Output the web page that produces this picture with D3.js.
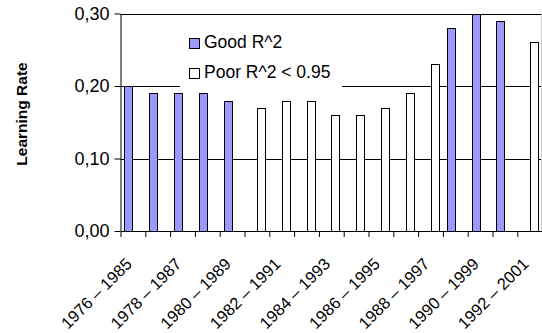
<!DOCTYPE html>
<html>
<head>
<meta charset="utf-8">
<script src="https://cdn.jsdelivr.net/npm/d3@7"></script>
<style>
  html, body { margin: 0; padding: 0; background: #ffffff; }
  svg { display: block; font-family: "Liberation Sans", Arial, sans-serif; }
</style>
</head>
<body>
<svg id="chart" width="542" height="333"></svg>
<script>
// ---- data ----
const categories = [
  "1976 – 1985", "1977 – 1986", "1978 – 1987", "1979 – 1988", "1980 – 1989",
  "1981 – 1990", "1982 – 1991", "1983 – 1992", "1984 – 1993", "1985 – 1994",
  "1986 – 1995", "1987 – 1996", "1988 – 1997", "1989 – 1998", "1990 – 1999",
  "1991 – 2000", "1992 – 2001"
];
const goodR2 = [0.20, 0.19, 0.19, 0.19, 0.18, null, null, null, null, null, null, null, null, 0.28, 0.30, 0.29, null];
const poorR2 = [null, null, null, null, null, 0.17, 0.18, 0.18, 0.16, 0.16, 0.17, 0.19, 0.23, null, null, null, 0.26];
const seriesNames = ["Good R^2", "Poor R^2 < 0.95"];
const yTickValues = [0, 0.1, 0.2, 0.3];
const yTitle = "Learning Rate";

// ---- layout ----
const svg = d3.select("#chart");
const W = 542, H = 333;
const plotLeft = 120.5, plotTop = 13.5, plotBottom = 231;
const step = 24.8;
const plotRight = plotLeft + categories.length * step;

svg.append("rect").attr("width", W).attr("height", H).attr("fill", "#fff");

const y = d3.scaleLinear().domain([0, 0.3]).range([plotBottom, plotTop]);
const x0 = d3.scaleBand().domain(categories).range([plotLeft, plotRight]).paddingInner(0.32).paddingOuter(0.16);
const x1 = d3.scaleBand().domain(seriesNames).range([0, x0.bandwidth()]);
const xIdx = d3.scaleLinear().domain([0, categories.length]).range([plotLeft, plotRight]);

const fmt = v => d3.format(".2f")(v).replace(".", ",");
const colors = { "Good R^2": "#9999ff", "Poor R^2 < 0.95": "#ffffff" };

// gridlines
svg.append("g").selectAll("line").data(yTickValues.filter(v => v > 0)).join("line")
  .attr("x1", plotLeft).attr("x2", W)
  .attr("y1", d => Math.round(y(d)) + 0.5).attr("y2", d => Math.round(y(d)) + 0.5)
  .attr("stroke", "#000").attr("stroke-width", 1);

// right border
svg.append("line").attr("x1", W - 0.5).attr("x2", W - 0.5).attr("y1", plotTop).attr("y2", plotBottom)
  .attr("stroke", "#c8c8c8");

// bars
const series = [
  { name: seriesNames[0], values: goodR2 },
  { name: seriesNames[1], values: poorR2 }
];
series.forEach(s => {
  svg.append("g").selectAll("rect")
    .data(categories.map((c, i) => ({ c, v: s.values[i] })).filter(d => d.v != null))
    .join("rect")
    .attr("x", d => Math.round(x0(d.c) + x1(s.name)) + 0.5)
    .attr("width", Math.round(x1.bandwidth()))
    .attr("y", d => Math.round(y(d.v)) + 0.5)
    .attr("height", d => Math.round(y(0)) - Math.round(y(d.v)))
    .attr("fill", colors[s.name])
    .attr("stroke", "#000").attr("stroke-width", 1);
});

// y axis
const yAxis = svg.append("g").attr("transform", `translate(${plotLeft},0)`)
  .call(d3.axisLeft(y).tickValues(yTickValues).tickFormat(fmt).tickSize(6).tickSizeOuter(0));
yAxis.select(".domain").attr("stroke", "#000");
yAxis.selectAll(".tick line").attr("stroke", "#000");
yAxis.selectAll("text").attr("font-size", 18).attr("fill", "#000")
  .attr("font-family", "Liberation Sans, Arial, sans-serif").attr("x", -11);

// x axis boundary ticks
const xAxis = svg.append("g").attr("transform", `translate(0,${plotBottom})`)
  .call(d3.axisBottom(xIdx).tickValues(d3.range(0, categories.length + 1)).tickFormat("").tickSize(6).tickSizeOuter(0));
xAxis.select(".domain").attr("stroke", "#000");
xAxis.selectAll(".tick line").attr("stroke", "#000");

// x labels (every other category), rotated 45 degrees
const labelY = 265;
svg.append("g").selectAll("text")
  .data(categories.filter((c, i) => i % 2 === 0))
  .join("text")
  .attr("x", d => x0(d) + x0.bandwidth() / 2)
  .attr("y", labelY)
  .attr("transform", d => `rotate(-45 ${x0(d) + x0.bandwidth() / 2} ${labelY})`)
  .attr("text-anchor", "end")
  .attr("font-size", 16.5)
  .attr("fill", "#000")
  .text(d => d);

// y title
svg.append("text")
  .attr("transform", `translate(27,114) rotate(-90)`)
  .attr("text-anchor", "middle")
  .attr("font-size", 15.5).attr("font-weight", "bold").attr("fill", "#000")
  .text(yTitle);

// legend
const lg = svg.append("g");
lg.append("rect").attr("x", 180).attr("y", 27).attr("width", 162).attr("height", 63).attr("fill", "#fff");
seriesNames.forEach((n, i) => {
  const yy = 38 + i * 30;
  lg.append("rect").attr("x", 189.5).attr("y", yy + 0.5).attr("width", 10).attr("height", 10)
    .attr("fill", colors[n]).attr("stroke", "#000");
  lg.append("text").attr("x", 204).attr("y", yy + 9.5).attr("font-size", 17.5).attr("fill", "#000").text(n);
});
</script>
</body>
</html>
